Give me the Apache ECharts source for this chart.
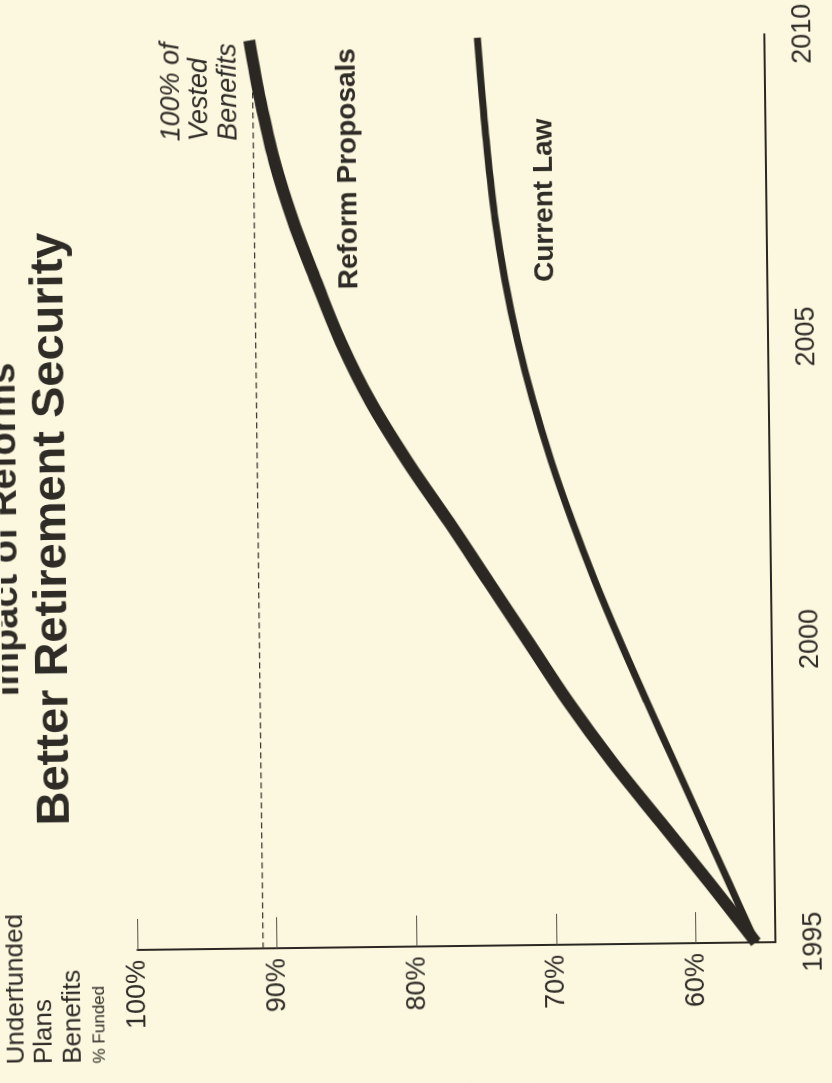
<!DOCTYPE html>
<html><head><meta charset="utf-8">
<script src="https://cdn.jsdelivr.net/npm/echarts@6/dist/echarts.min.js"></script>
<style>
html,body{margin:0;padding:0;width:832px;height:1083px;overflow:hidden;background:#fbf8df;}
#c{position:absolute;width:1083px;height:832px;left:-125.5px;top:125.5px;transform:rotate(-90.7deg);transform-origin:50% 50%;}
</style></head><body><div id="c"></div>
<script>
// ---- data ----
const years = [1995,1996,1997,1998,1999,2000,2001,2002,2003,2004,2005,2006,2007,2008,2009,2010];
const reformProposals = [55.7,59.0,62.4,65.8,68.9,71.7,74.5,77.3,80.2,82.8,84.9,86.6,88.2,89.5,90.45,91.2];
const currentLaw = [55.7,57.6,59.5,61.4,63.3,65.15,66.9,68.5,69.95,71.2,72.25,73.1,73.75,74.2,74.55,74.85];
const vestedYears = [1995, 2010.25];
const vestedLevel = [91, 91];
const yearTicks = [1995, 2000, 2005, 2010];
const pctTicks = [60, 70, 80, 90, 100];

const INK = '#2b2722';
const TXT = '#2f2b27';
const FF = '"Liberation Sans", Arial, Helvetica, sans-serif';

const chart = echarts.init(document.getElementById('c'), null, {renderer: 'canvas'});

function txt(text, x, y, font, align) {
  return {type: 'text', x: x, y: y, z: 100,
    style: {text: text, font: font, fill: TXT,
      align: align || 'left', verticalAlign: 'middle',
      textAlign: align || 'left', textVerticalAlign: 'middle'}};
}

chart.setOption({
  backgroundColor: '#fbf8df',
  animation: false,
  grid: {left: 137, right: 38, top: 132, bottom: 62, containLabel: false},
  xAxis: {
    type: 'value', min: 1995, max: 2010, interval: 5,
    axisLine: {show: true, lineStyle: {color: INK, width: 2}},
    axisTick: {show: false},
    splitLine: {show: false},
    axisLabel: {margin: 25, fontSize: 27, fontFamily: FF, color: TXT,
      customValues: yearTicks, formatter: function (v) { return String(v); }}
  },
  yAxis: {
    type: 'value', min: 54.3, max: 100,
    axisLine: {show: true, lineStyle: {color: INK, width: 2}},
    axisTick: {show: true, inside: true, length: 31, customValues: pctTicks,
      lineStyle: {color: '#55504a', width: 1}},
    splitLine: {show: false},
    axisLabel: {margin: 10, fontSize: 27, fontFamily: FF, color: TXT,
      customValues: pctTicks, formatter: function (v) { return v + '%'; }}
  },
  series: [
    {type: 'line', name: '100% of Vested Benefits', symbol: 'none', clip: false, z: 1,
      data: vestedYears.map(function (y, i) { return [y, vestedLevel[i]]; }),
      lineStyle: {color: '#3a3530', width: 1.2, type: [6, 4]}},
    {type: 'line', name: 'Current Law', symbol: 'none', smooth: 0.35, z: 3,
      data: years.map(function (y, i) { return [y, currentLaw[i]]; }),
      lineStyle: {color: INK, width: 7, cap: 'butt', join: 'round'}},
    {type: 'line', name: 'Reform Proposals', symbol: 'none', smooth: 0.35, z: 4,
      data: years.map(function (y, i) { return [y, reformProposals[i]]; }),
      lineStyle: {color: INK, width: 12, cap: 'butt', join: 'round'}}
  ],
  graphic: [
    txt('Impact of Reforms', 559, 6, 'bold 38px ' + FF, 'center'),
    txt('Better Retirement Security', 559, 52, 'bold 47px ' + FF, 'center'),
    txt('Underfunded', 24, 9.5, '26px ' + FF),
    txt('Plans', 24, 38, '26px ' + FF),
    txt('Benefits', 24, 66.5, '26px ' + FF),
    txt('% Funded', 24, 93, '17px ' + FF),
    txt('100% of', 945, 176, 'italic 27px ' + FF),
    txt('Vested', 945, 204, 'italic 27px ' + FF),
    txt('Benefits', 945, 233, 'italic 27px ' + FF),
    txt('Reform Proposals', 795, 352.5, 'bold 28px ' + FF),
    txt('Current Law', 800, 548, 'bold 28px ' + FF)
  ]
});
</script></body></html>
